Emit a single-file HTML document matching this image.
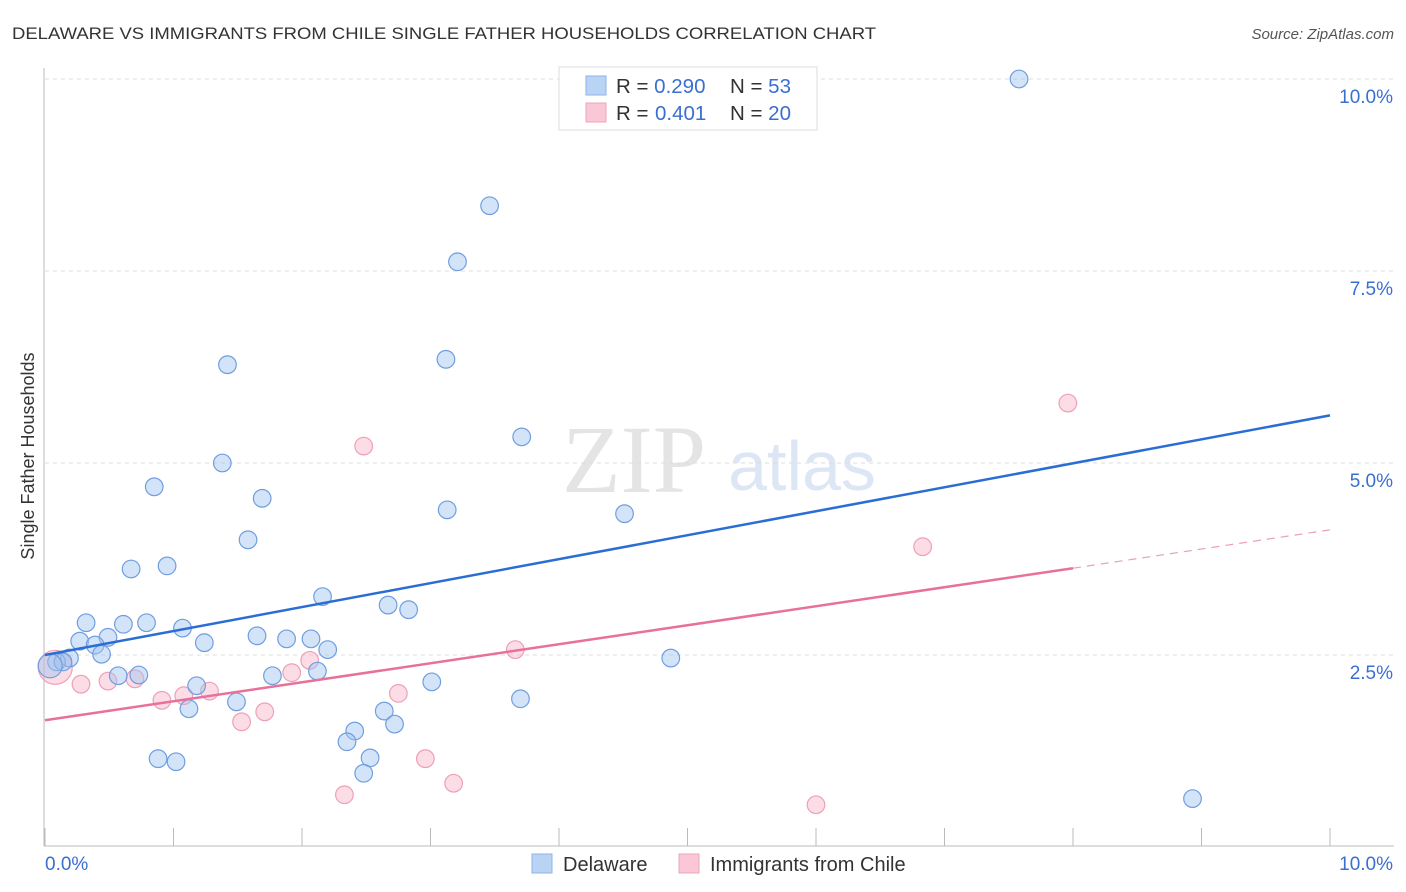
<!DOCTYPE html>
<html><head><meta charset="utf-8"><style>
body{margin:0;background:#fff;font-family:"Liberation Sans",sans-serif}
svg{display:block}
</style></head><body>
<svg width="1406" height="892" xmlns="http://www.w3.org/2000/svg">
<text x="12" y="39" font-size="17" fill="#333" textLength="864" lengthAdjust="spacingAndGlyphs">DELAWARE VS IMMIGRANTS FROM CHILE SINGLE FATHER HOUSEHOLDS CORRELATION CHART</text>
<text x="1394" y="39" font-size="15" fill="#555" font-style="italic" text-anchor="end">Source: ZipAtlas.com</text>
<text x="634" y="492" font-size="96" fill="#e4e4e4" font-family="Liberation Serif,serif" text-anchor="middle">ZIP</text>
<text x="802" y="490" font-size="70" fill="#dde6f5" text-anchor="middle">atlas</text>
<g id="grid"></g>
<g id="axes"></g>
<g id="marks"></g>
<text transform="translate(34,456) rotate(-90)" font-size="18" fill="#333" text-anchor="middle">Single Father Households</text>
<g>
<rect x="559" y="67" width="258" height="63" fill="#fff" stroke="#ddd"/>
<rect x="586" y="76" width="20" height="19" fill="#b9d3f5" stroke="#8fb3e6"/>
<rect x="586" y="103" width="20" height="19" fill="#f9c7d6" stroke="#eda6bc"/>
<text x="616" y="93" font-size="20.5" fill="#333">R = <tspan fill="#3a6fd0">0.290</tspan><tspan x="730">N = </tspan><tspan fill="#3a6fd0">53</tspan></text>
<text x="616" y="120" font-size="20.5" fill="#333">R = <tspan fill="#3a6fd0" x="655">0.401</tspan><tspan x="730">N = </tspan><tspan fill="#3a6fd0">20</tspan></text>
</g>
<g>
<rect x="532" y="854" width="20" height="19" fill="#b9d3f5" stroke="#8fb3e6"/>
<text x="563" y="871" font-size="20" fill="#333">Delaware</text>
<rect x="679" y="854" width="20" height="19" fill="#f9c7d6" stroke="#eda6bc"/>
<text x="710" y="871" font-size="20" fill="#333">Immigrants from Chile</text>
</g>
</svg>
<script>
const xTicks=[0,1,2,3,4,5,6,7,8,9,10];
const yTicks=[2.5,5,7.5,10];
const yTickLabels=["2.5%","5.0%","7.5%","10.0%"];
const xTickLabels=["0.0%","10.0%"];
const delX=[7.58,3.46,3.21,1.42,3.12,3.71,1.38,0.85,1.69,3.13,4.51,1.58,0.67,0.95,2.16,2.67,2.83,0.32,0.61,0.79,1.07,0.49,0.27,0.39,1.24,1.65,1.88,2.07,2.20,0.44,0.19,0.09,0.14,4.87,0.57,0.73,1.77,2.12,1.18,3.01,1.49,1.12,3.70,2.64,2.72,2.41,2.35,0.88,1.02,2.53,2.48,8.93,0.04];
const delY=[10.0,8.35,7.62,6.28,6.35,5.34,5.0,4.69,4.54,4.39,4.34,4.0,3.62,3.66,3.26,3.15,3.09,2.92,2.90,2.92,2.85,2.73,2.68,2.63,2.66,2.75,2.71,2.71,2.57,2.51,2.46,2.41,2.41,2.46,2.23,2.24,2.23,2.29,2.10,2.15,1.89,1.80,1.93,1.77,1.60,1.51,1.37,1.15,1.11,1.16,0.96,0.63,2.36];
const chiX=[7.96,2.48,6.83,3.66,2.06,0.08,0.28,0.49,0.70,1.92,1.28,1.08,0.91,2.75,1.71,1.53,2.96,3.18,2.33,6.0];
const chiY=[5.78,5.22,3.91,2.57,2.43,2.34,2.12,2.16,2.19,2.27,2.03,1.97,1.91,2.0,1.76,1.63,1.15,0.83,0.68,0.55];
const delLine=[[0,2.5],[10,5.62]];
const chiLine=[[0,1.65],[8,3.63]];
const chiDash=[[8,3.63],[10,4.13]];
const X=v=>45+v*128.5, Y=v=>847-v*76.8;
const NS="http://www.w3.org/2000/svg";
function mk(t,a,p){const e=document.createElementNS(NS,t);for(const k in a)e.setAttribute(k,a[k]);p.appendChild(e);return e;}
const grid=document.getElementById('grid'),axes=document.getElementById('axes'),marks=document.getElementById('marks');
yTicks.forEach((v,i)=>{
 const l=mk('line',{x1:45,x2:1394,y1:Y(v),y2:Y(v),stroke:'#ddd','stroke-dasharray':'4,4'},grid);
 
 
 const t=mk('text',{x:1393,y:Y(v)+24,'font-size':19,fill:'#3a6fd0','text-anchor':'end'},axes);
 t.textContent=yTickLabels[i];
 
 
});
const ya=mk('line',{x1:44,x2:44,y1:68,y2:846,stroke:'#bbb'},axes);


const xa=mk('line',{x1:44,x2:1394,y1:846,y2:846,stroke:'#bbb'},axes);


xTicks.forEach(v=>{const l=mk('line',{x1:X(v),x2:X(v),y1:828,y2:846,stroke:'#bbb'},axes);
 
 });
[[0,'start',45],[10,'end',1393]].forEach((d,i)=>{const t=mk('text',{x:d[2],y:870,'font-size':19,fill:'#3a6fd0','text-anchor':d[1]},axes);t.textContent=xTickLabels[i];
 
 });
chiX.forEach((x,i)=>{const c=mk('circle',{cx:X(x),cy:Y(chiY[i]),r:i==5?17:8.8,fill:'rgba(248,180,200,0.45)',stroke:'#eda0b8','stroke-width':1.2},marks);
 
 });
delX.forEach((x,i)=>{const c=mk('circle',{cx:X(x),cy:Y(delY[i]),r:i==52?12:8.8,fill:'rgba(160,195,240,0.45)',stroke:'#6f9ee0','stroke-width':1.2},marks);
 
 });
const bl=mk('line',{x1:X(delLine[0][0]),y1:Y(delLine[0][1]),x2:X(delLine[1][0]),y2:Y(delLine[1][1]),stroke:'#2a6dd4','stroke-width':2.5},marks);


const pl=mk('line',{x1:X(chiLine[0][0]),y1:Y(chiLine[0][1]),x2:X(chiLine[1][0]),y2:Y(chiLine[1][1]),stroke:'#e8709a','stroke-width':2.5},marks);


const pd=mk('line',{x1:X(chiDash[0][0]),y1:Y(chiDash[0][1]),x2:X(chiDash[1][0]),y2:Y(chiDash[1][1]),stroke:'#e8a0b8','stroke-width':1.2,'stroke-dasharray':'8,6'},marks);


</script>
</body></html>
